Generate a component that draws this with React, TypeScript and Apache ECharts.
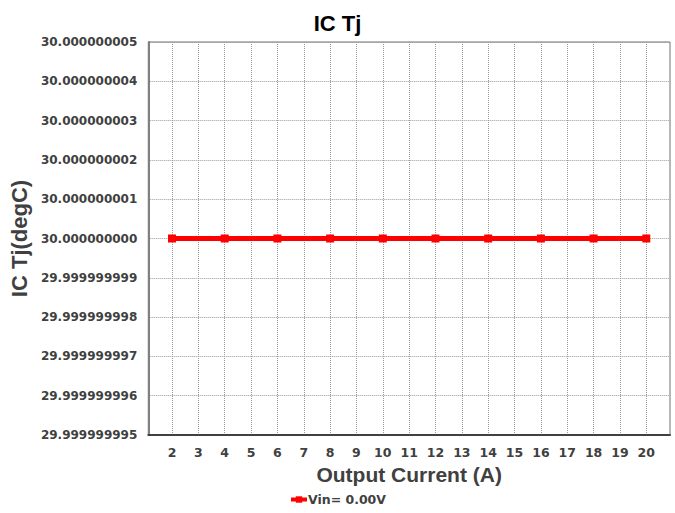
import React, { useEffect, useRef } from "react";
import * as echarts from "echarts";

const titleText = "IC Tj";
const xAxisName = "Output Current (A)";
const yAxisName = "IC Tj(degC)";
const seriesName = "Vin= 0.00V";
const currents = [2, 4, 6, 8, 10, 12, 14, 16, 18, 20];
const tjValues = [30, 30, 30, 30, 30, 30, 30, 30, 30, 30];
const xTicks = [2, 3, 4, 5, 6, 7, 8, 9, 10, 11, 12, 13, 14, 15, 16, 17, 18, 19, 20];
const yMin = 29.999999995;
const yMax = 30.000000005;
const yStep = 0.000000001;
const xMin = 1.1;
const xMax = 20.9;

export default function App() {
  const ref = useRef<HTMLDivElement>(null);
  useEffect(() => {
    if (!ref.current) return;
    const chart = echarts.init(ref.current, null, { renderer: "svg" });
    const labelFont = { fontFamily: "DejaVu Sans", fontWeight: "bold" as const, fontSize: 12, color: "#404040" };
    chart.setOption({
      animation: false,
      backgroundColor: "#ffffff",
      title: {
        text: titleText,
        left: "center",
        top: 7,
        textStyle: { fontFamily: "Liberation Sans", fontWeight: "bold", fontSize: 22, color: "#000000" },
      },
      legend: {
        bottom: 2,
        left: "center",
        itemWidth: 16,
        itemHeight: 8,
        itemGap: 4,
        lineStyle: { width: 4 },
        textStyle: { ...labelFont, fontSize: 12.5, padding: [0, 0, 0, -4] },
        data: [seriesName],
      },
      grid: {
        left: 148,
        right: 5,
        top: 42,
        bottom: 78,
        show: true,
        borderColor: "#707070",
        borderWidth: 1,
      },
      xAxis: {
        type: "value",
        min: xMin,
        max: xMax,
        name: xAxisName,
        nameLocation: "middle",
        nameGap: 26,
        nameTextStyle: { fontFamily: "Liberation Sans", fontWeight: "bold", fontSize: 21, color: "#404040" },
        axisLine: { show: true, lineStyle: { color: "#404040", width: 2 } },
        axisTick: { show: false, customValues: xTicks },
        axisLabel: {
          ...labelFont,
          fontSize: 12.5,
          margin: 11,
          customValues: xTicks,
          formatter: (v: number) => String(Math.round(v)),
        },
        splitLine: { show: true, lineStyle: { color: "#999999", type: "dotted", width: 1 } },
      },
      yAxis: {
        type: "value",
        min: yMin,
        max: yMax,
        interval: yStep,
        name: yAxisName,
        nameLocation: "middle",
        nameGap: 110,
        nameTextStyle: { fontFamily: "Liberation Sans", fontWeight: "bold", fontSize: 22, color: "#404040" },
        axisLine: { show: true, lineStyle: { color: "#808080", width: 2 } },
        axisTick: { show: false },
        axisLabel: {
          ...labelFont,
          margin: 11,
          formatter: (v: number) => v.toFixed(9),
        },
        splitLine: { show: true, lineStyle: { color: "#999999", type: "dotted", width: 1 } },
      },
      series: [
        {
          name: seriesName,
          type: "line",
          data: currents.map((c, i) => [c, tjValues[i]]),
          symbol: "rect",
          symbolSize: 8,
          lineStyle: { color: "#ff0000", width: 5 },
          itemStyle: { color: "#ff0000" },
        },
      ],
    });
    return () => chart.dispose();
  }, []);
  return <div ref={ref} style={{ width: 675, height: 513, position: "absolute", left: 0, top: 0 }} />;
}
